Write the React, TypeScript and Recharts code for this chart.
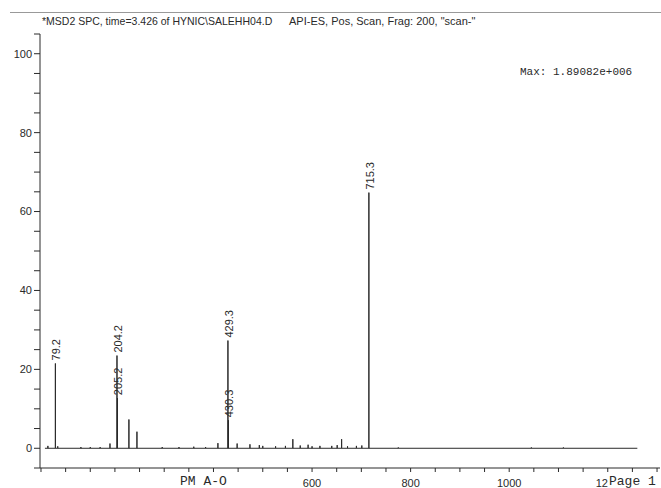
import React from 'react';
import { ComposedChart, Line, Scatter, XAxis, YAxis } from 'recharts';

// m/z of each stick and its relative abundance (%)
const peakMz = [64, 79.2, 84, 131, 150, 170, 190, 204.2, 205.2, 228.4, 244.7, 296, 330, 360, 384, 409, 429.3, 430.3, 448, 474, 493, 500, 526, 546, 561, 576, 592, 600, 616, 640, 651, 660, 672, 690, 701, 715.3, 775, 1045, 1110];
const peakAbund = [0.6, 21.5, 0.5, 0.3, 0.3, 0.3, 1.2, 23.5, 12.7, 7.3, 4.2, 0.3, 0.3, 0.4, 0.3, 1.3, 27.3, 7.1, 1.2, 1.0, 0.8, 0.6, 0.5, 0.6, 2.3, 0.7, 0.9, 0.5, 0.6, 0.6, 0.8, 2.3, 0.5, 0.6, 0.7, 64.8, 0.2, 0.2, 0.2];
const scanStart = 58;
const scanEnd = 1260;

const labelledMz = [79.2, 204.2, 205.2, 429.3, 430.3, 715.3];

const xTicks = [50, 100, 150, 200, 250, 300, 350, 400, 450, 500, 550, 600, 650, 700, 750, 800, 850, 900, 950, 1000, 1050, 1100, 1150, 1200, 1250, 1300];
const xTickLabels: Record<number, string> = { 600: '600', 800: '800', 1000: '1000', 1200: '12' };
const yTicks = [-5, 0, 5, 10, 15, 20, 25, 30, 35, 40, 45, 50, 55, 60, 65, 70, 75, 80, 85, 90, 95, 100, 105];
const yTickLabels = [0, 20, 40, 60, 80, 100];

const title = '*MSD2 SPC, time=3.426 of HYNIC\\SALEHH04.D';
const title2 = 'API-ES, Pos, Scan, Frag: 200, "scan-"';
const maxText = 'Max: 1.89082e+006';

const ink = '#2a2a2a';
const sans = '"Liberation Sans", Arial, sans-serif';
const mono = '"Liberation Mono", "Courier New", monospace';

// sticks drawn as a single polyline: baseline -> top -> baseline
const spectrum: { mz: number; y: number }[] = [{ mz: scanStart, y: 0 }];
peakMz.forEach((mz, i) => {
  spectrum.push({ mz, y: 0 }, { mz, y: peakAbund[i] }, { mz, y: 0 });
});
spectrum.push({ mz: scanEnd, y: 0 });

const labels = labelledMz.map((mz) => ({ mz, y: peakAbund[peakMz.indexOf(mz)] }));

const PeakLabel = (props: any) => {
  const { cx, cy, payload } = props;
  const x = cx + 1;
  const y = cy - 3;
  return (
    <text
      x={x}
      y={y}
      transform={`rotate(-90 ${x} ${y})`}
      textAnchor="start"
      dominantBaseline="central"
      fontFamily={sans}
      fontSize={11}
      fill={ink}
    >
      {payload.mz.toFixed(1)}
    </text>
  );
};

const XTick = (props: any) => {
  const { x, y, payload } = props;
  const label = xTickLabels[payload.value];
  if (!label) return null;
  // the 1200 label is printed over by "Page 1", only "12" survives
  const isCut = payload.value === 1200;
  return (
    <text
      x={isCut ? x - 12 : x}
      y={y}
      dy={8}
      textAnchor={isCut ? 'start' : 'middle'}
      fontFamily={sans}
      fontSize={11}
      fill={ink}
    >
      {label}
    </text>
  );
};

const App: React.FC = () => {
  return (
    <div style={{ position: 'absolute', left: 0, top: 0, width: 661, height: 488, background: '#fff' }}>
      <ComposedChart width={661} height={488} margin={{ top: 34, right: 1, left: 0, bottom: 0 }}>
        <XAxis
          type="number"
          dataKey="mz"
          domain={[48, 1306]}
          allowDataOverflow
          ticks={xTicks}
          interval={0}
          tick={<XTick />}
          tickSize={4}
          tickMargin={7}
          height={20}
          stroke={ink}
        />
        <YAxis
          type="number"
          dataKey="y"
          domain={[-5, 105]}
          allowDataOverflow
          ticks={yTicks}
          interval={0}
          tickFormatter={(v: number) => (yTickLabels.includes(v) ? String(v) : '')}
          tickSize={6}
          tickMargin={2}
          width={40}
          stroke={ink}
          tick={{ fontFamily: sans, fontSize: 11, fill: ink }}
        />
        <Line
          data={spectrum}
          dataKey="y"
          type="linear"
          stroke={ink}
          strokeWidth={1}
          dot={false}
          activeDot={false}
          isAnimationActive={false}
        />
        <Scatter data={labels} dataKey="y" shape={<PeakLabel />} isAnimationActive={false} />
      </ComposedChart>
      <svg width={661} height={488} style={{ position: 'absolute', left: 0, top: 0, pointerEvents: 'none' }}>
        <line x1={10} y1={12.5} x2={661} y2={12.5} stroke="#999" strokeWidth={1} />
        <text x={42} y={25} fontFamily={sans} fontSize={10.5} fill={ink}>{title}</text>
        <text x={289} y={25} fontFamily={sans} fontSize={11} fill={ink}>{title2}</text>
        <text x={520} y={75} fontFamily={mono} fontSize={11} fill={ink}>{maxText}</text>
        <text x={180} y={485} fontFamily={mono} fontSize={13} fill={ink}>PM A-O</text>
        <rect x={609} y={474} width={52} height={14} fill="#fff" />
        <text x={609} y={485} fontFamily={mono} fontSize={13} fill={ink}>Page 1</text>
      </svg>
    </div>
  );
};

export default App;
